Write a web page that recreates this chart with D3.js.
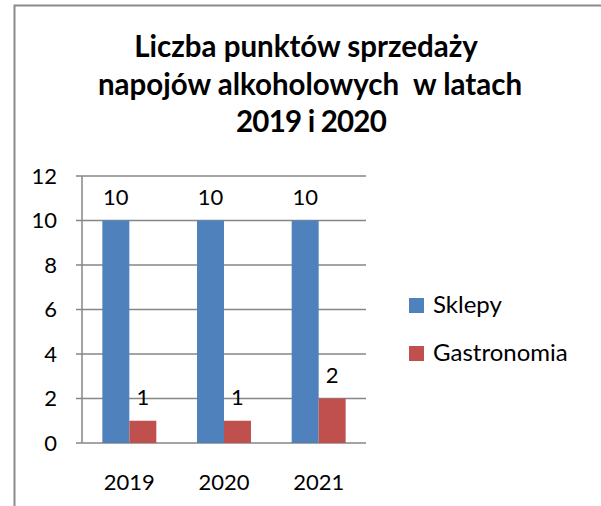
<!DOCTYPE html>
<html>
<head>
<meta charset="utf-8">
<script src="https://cdn.jsdelivr.net/npm/d3@7"></script>
<style>
  body { margin: 0; background: #fff; }
  svg { display: block; }
</style>
</head>
<body>
<svg id="chart"></svg>
<script>
// dane
const years = ["2019", "2020", "2021"];
const seriesNames = ["Sklepy", "Gastronomia"];
const sklepy = [10, 10, 10];
const gastronomia = [1, 1, 2];
const yTicks = [0, 2, 4, 6, 8, 10, 12];
const titleLines = ["Liczba punktów sprzedaży", "napojów alkoholowych  w latach", "2019 i 2020"];

const width = 601;
const height = 506;
const colors = ["#4F81BD", "#C0504D"];
const font = "Lato, 'Open Sans', sans-serif";

const svg = d3.select("#chart")
  .attr("width", width)
  .attr("height", height);

// ramka
svg.append("path")
  .attr("d", `M${width + 5},5.5 H14.5 V${height + 5}`)
  .attr("fill", "none")
  .attr("stroke", "#8a8a8a")
  .attr("stroke-width", 2);

// tytul
svg.append("text")
  .attr("text-anchor", "middle")
  .attr("font-family", font)
  .attr("font-weight", "bold")
  .attr("font-size", 29.5)
  .attr("fill", "#000")
  .style("white-space", "pre")
  .selectAll("tspan")
  .data(titleLines)
  .join("tspan")
  .attr("x", (d, i) => [306, 310, 311][i])
  .attr("y", (d, i) => 57 + i * 37.5)
  .attr("letter-spacing", (d, i) => i === 2 ? -0.8 : 0)
  .text(d => d);

// skale
const plot = { left: 82, right: 366, top: 176, bottom: 443 };

const x = d3.scaleBand()
  .domain(years)
  .range([plot.left, plot.right])
  .paddingInner(0.43)
  .paddingOuter(0.215);

const xInner = d3.scaleBand()
  .domain(seriesNames)
  .range([0, x.bandwidth()]);

const y = d3.scaleLinear()
  .domain([0, 12])
  .range([plot.bottom, plot.top]);

// siatka
svg.append("g")
  .selectAll("line")
  .data(yTicks)
  .join("line")
  .attr("x1", plot.left - 6)
  .attr("x2", plot.right)
  .attr("y1", d => y(d))
  .attr("y2", d => y(d))
  .attr("stroke", "#868686")
  .attr("stroke-width", 1.5);

svg.append("line")
  .attr("x1", plot.left)
  .attr("x2", plot.left)
  .attr("y1", plot.top)
  .attr("y2", plot.bottom)
  .attr("stroke", "#868686")
  .attr("stroke-width", 1.5);

// etykiety osi Y
svg.append("g")
  .selectAll("text")
  .data(yTicks)
  .join("text")
  .attr("x", 57)
  .attr("y", d => y(d))
  .attr("dy", "0.36em")
  .attr("text-anchor", "end")
  .attr("font-family", font)
  .attr("font-size", 22)
  .text(d => d);

// etykiety osi X
svg.append("g")
  .selectAll("text")
  .data(years)
  .join("text")
  .attr("x", d => x(d) + x.bandwidth() / 2)
  .attr("y", 490)
  .attr("text-anchor", "middle")
  .attr("font-family", font)
  .attr("font-size", 22)
  .text(d => d);

// slupki
const data = years.map((yr, i) => ({
  year: yr,
  values: [
    { name: seriesNames[0], value: sklepy[i] },
    { name: seriesNames[1], value: gastronomia[i] }
  ]
}));

const groups = svg.append("g")
  .selectAll("g")
  .data(data)
  .join("g")
  .attr("transform", d => `translate(${x(d.year)},0)`);

groups.selectAll("rect")
  .data(d => d.values)
  .join("rect")
  .attr("x", d => xInner(d.name))
  .attr("y", d => y(d.value))
  .attr("width", xInner.bandwidth())
  .attr("height", d => y(0) - y(d.value))
  .attr("fill", (d, i) => colors[i]);

groups.selectAll("text")
  .data(d => d.values)
  .join("text")
  .attr("x", d => xInner(d.name) + xInner.bandwidth() / 2)
  .attr("y", d => y(d.value) - 16)
  .attr("text-anchor", "middle")
  .attr("font-family", font)
  .attr("font-size", 22)
  .text(d => d.value);

// legenda
const legend = svg.append("g")
  .selectAll("g")
  .data(seriesNames)
  .join("g")
  .attr("transform", (d, i) => `translate(409,${298 + i * 48})`);

legend.append("rect")
  .attr("width", 15)
  .attr("height", 15)
  .attr("fill", (d, i) => colors[i]);

legend.append("text")
  .attr("x", 24)
  .attr("y", 15)
  .attr("font-family", font)
  .attr("font-size", 24)
  .text(d => d);
</script>
</body>
</html>
